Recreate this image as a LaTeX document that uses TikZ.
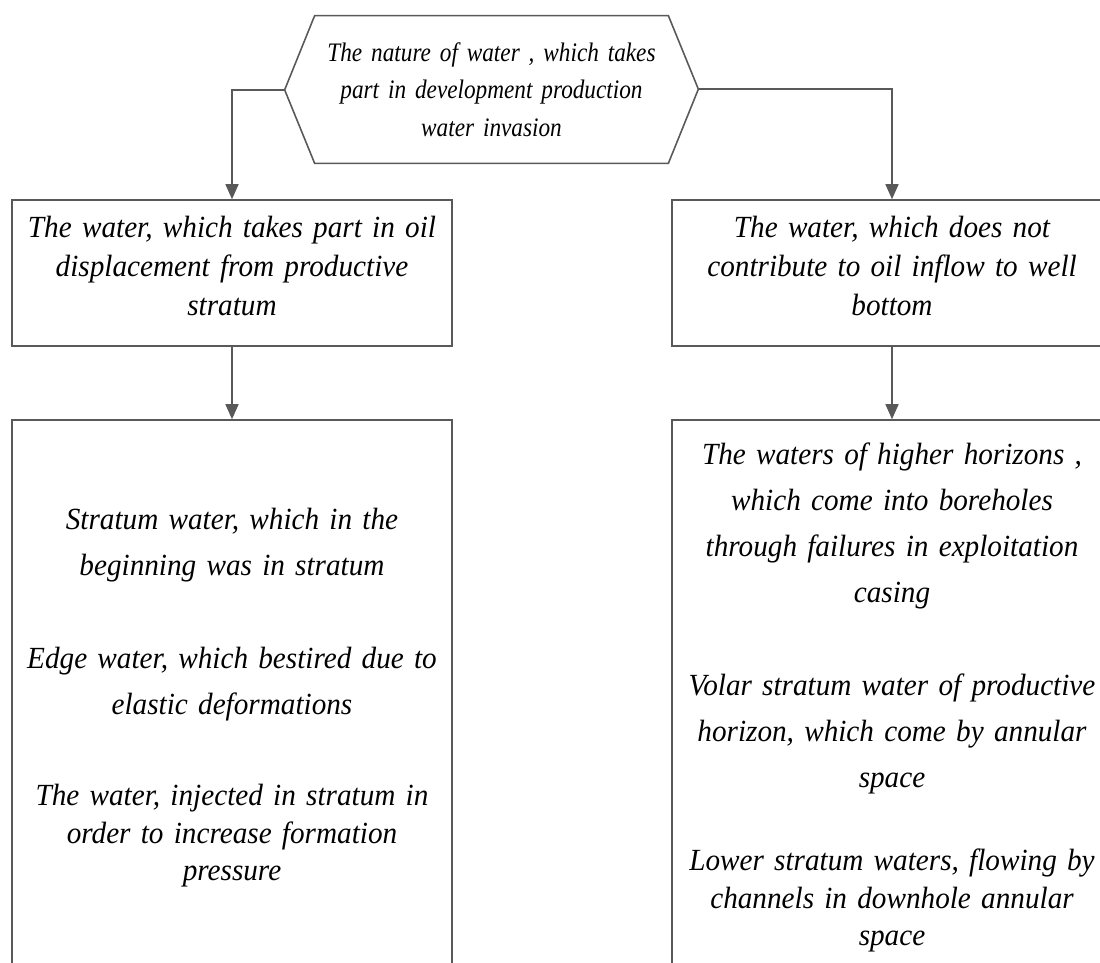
\documentclass[tikz,border=0pt]{standalone}
\usepackage{fontspec}
\setmainfont{Liberation Serif}
\newfontfamily\narrowserif[FakeStretch=0.87,WordSpace=0.87]{Liberation Serif}
\newfontfamily\boxserif[FakeStretch=0.95]{Liberation Serif}
\usetikzlibrary{arrows.meta,positioning}

\begin{document}
\begin{tikzpicture}[
    line/.style={draw=black!65, line width=0.9pt},
    arr/.style={line, -{Triangle[width=0.26cm,length=0.3cm]}},
    txt/.style={align=center, font=\boxserif\fontsize{17.5}{22.1}\selectfont\itshape},
    box/.style={line, txt, text width=8.8cm, inner sep=0pt, minimum height=2.92cm},
    tallbox/.style={box, minimum height=11.1cm, font=\boxserif\fontsize{17.5}{26.1}\selectfont\itshape}
  ]
  \useasboundingbox (0,0) rectangle (22,-19.26);
  \clip (0,0) rectangle (22,-19.26);

  % top hexagon
  \node[txt, font=\narrowserif\fontsize{15.2}{21.3}\selectfont\itshape, text width=7.06cm, minimum height=2.94cm, inner sep=0pt]
    (nature) at (9.83,-1.79)
    {The nature of water , which takes\\ part in development production\\ water invasion};
  \draw[line] (nature.north west) -- (nature.north east) -- ++(0.6,-1.47)
    coordinate (natureR) -- (nature.south east) -- (nature.south west)
    -- ++(-0.6,1.47) coordinate (natureL) -- cycle;

  % second row
  \node[box] (disp) at (4.64,-5.46)
    {The water, which takes part in oil\\ displacement from productive\\ stratum\\[-14pt]\mbox{}};
  \node[box] (nocontrib) at (17.84,-5.46)
    {The water, which does not\\ contribute to oil inflow to well\\ bottom\\[-14pt]\mbox{}};

  % lower boxes
  \node[tallbox] (formation) at (4.64,-13.95)
    {Stratum water, which in the\\ beginning was in stratum\\[27pt]
     Edge water, which bestired due to\\ elastic deformations\\[26pt]
     The water, injected in stratum in\\[-4.9pt] order to increase formation\\[-4.9pt] pressure};
  \node[tallbox] (foreign) at (17.84,-13.95)
    {The waters of higher horizons ,\\ which come into boreholes\\ through failures in exploitation\\ casing\\[27pt]
     Volar stratum water of productive\\ horizon, which come by annular\\ space\\[21.5pt]
     Lower stratum waters, flowing by\\[-4.9pt] channels in downhole annular\\[-4.9pt] space};

  \draw[arr] (natureL) -| (disp.north);
  \draw[arr] (natureR) -| (nocontrib.north);
  \draw[arr] (disp) -- (formation);
  \draw[arr] (nocontrib) -- (foreign);
\end{tikzpicture}
\end{document}
